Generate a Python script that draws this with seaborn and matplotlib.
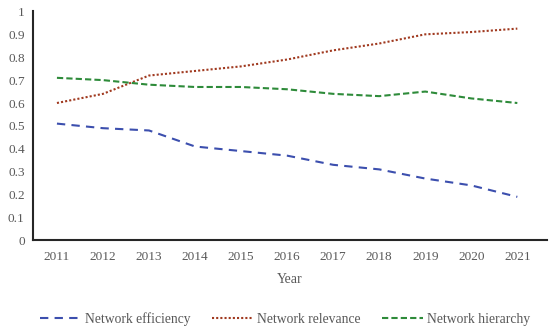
import numpy as np
import pandas as pd
import matplotlib
matplotlib.use('Agg')
import matplotlib.pyplot as plt
import seaborn as sns

# ------------------ data ------------------
years = [2011, 2012, 2013, 2014, 2015, 2016, 2017, 2018, 2019, 2020, 2021]
efficiency = [0.51, 0.49, 0.48, 0.41, 0.39, 0.37, 0.33, 0.31, 0.27, 0.24, 0.19]
relevance = [0.60, 0.64, 0.72, 0.74, 0.76, 0.79, 0.83, 0.86, 0.90, 0.91, 0.925]
hierarchy = [0.71, 0.70, 0.68, 0.67, 0.67, 0.66, 0.64, 0.63, 0.65, 0.62, 0.60]

series_names = ['Network efficiency', 'Network relevance', 'Network hierarchy']

sns.set_style('white')
plt.rcParams['font.family'] = ['Liberation Serif', 'DejaVu Serif']

df = pd.DataFrame({'Year': years,
                   series_names[0]: efficiency,
                   series_names[1]: relevance,
                   series_names[2]: hierarchy})
long = df.melt(id_vars='Year', var_name='Series', value_name='Value')

fig, ax = plt.subplots(figsize=(5.5, 3.27), dpi=100)

palette = {series_names[0]: '#3c4fae',
           series_names[1]: '#a0391f',
           series_names[2]: '#2e8b3a'}
styles = {series_names[0]: (0, (4, 3)),
          series_names[1]: (0, (1, 1)),
          series_names[2]: (0, (3, 1.5))}

for name in series_names:
    sub = long[long['Series'] == name]
    sns.lineplot(data=sub, x='Year', y='Value', ax=ax, color=palette[name],
                 linestyle=styles[name], linewidth=1.5, label=name)

ax.set_ylim(0, 1)
ax.set_xlim(years[0] - 0.52, years[-1] + 0.65)
ax.set_yticks(np.arange(0, 1.01, 0.1))
ax.set_yticklabels(['0', '0.1', '0.2', '0.3', '0.4', '0.5', '0.6', '0.7', '0.8', '0.9', '1'])
ax.set_xticks(years)
ax.set_xticklabels([str(y) for y in years])
ax.tick_params(axis='both', labelsize=9.5, colors='#595959', length=0, pad=6)
ax.tick_params(axis='x', pad=8)
ax.set_xlabel('Year', fontsize=10, color='#595959', labelpad=7)
ax.set_ylabel('')

for side in ['top', 'right']:
    ax.spines[side].set_visible(False)
for side in ['left', 'bottom']:
    ax.spines[side].set_color('#262626')
    ax.spines[side].set_linewidth(1.5)

ax.legend(loc='upper center', bbox_to_anchor=(0.49, -0.26), ncol=3, frameon=False,
          fontsize=9.8, handlelength=3.0, columnspacing=1.6, handletextpad=0.3,
          labelcolor='#595959')

plt.subplots_adjust(left=0.06, right=0.995, top=0.965, bottom=0.265)
plt.savefig('out.png', dpi=100)
